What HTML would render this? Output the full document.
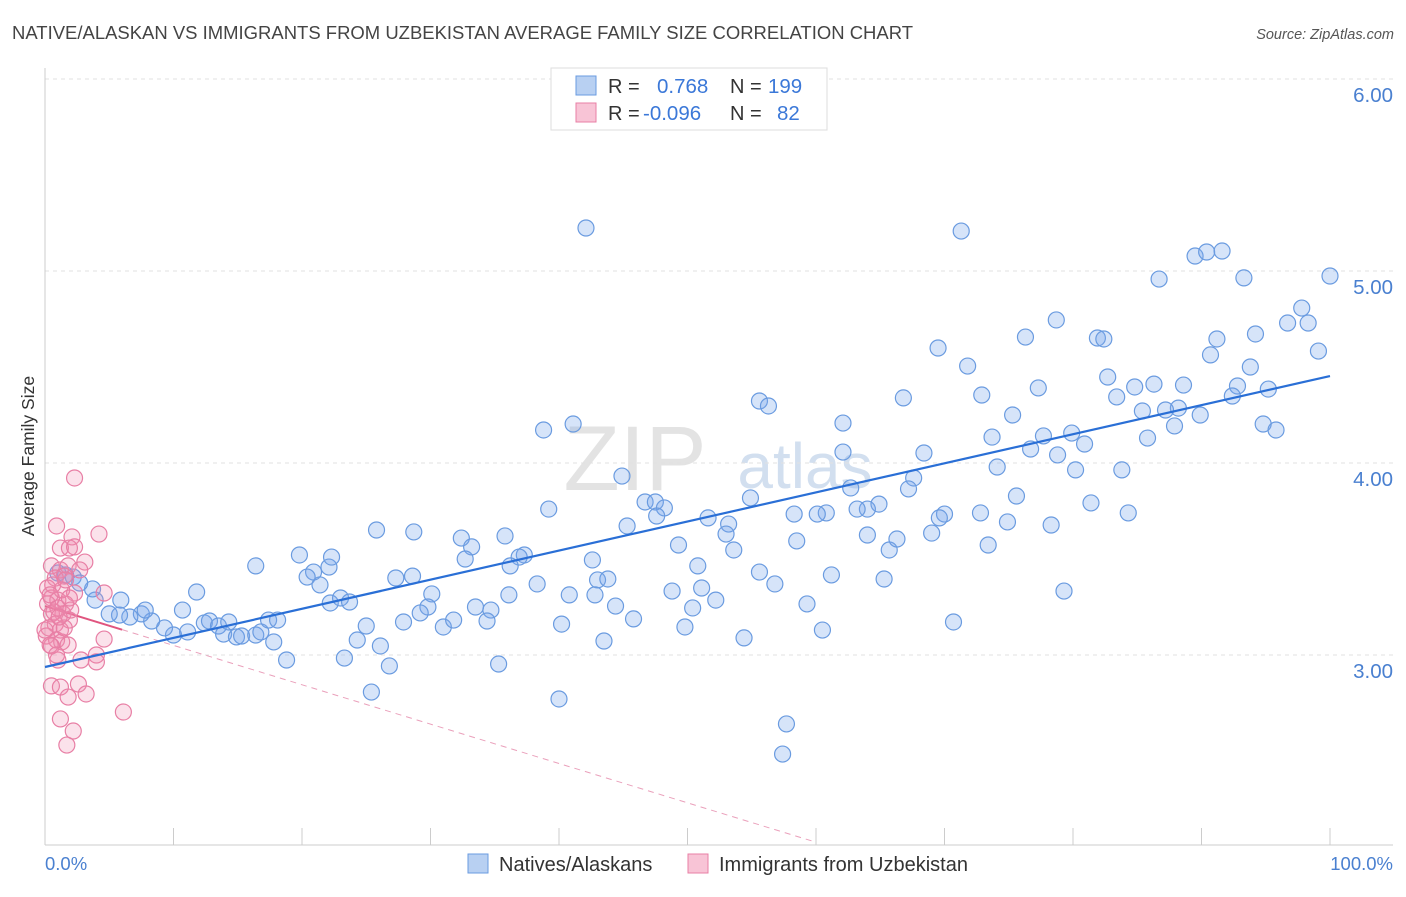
<!DOCTYPE html>
<html><head><meta charset="utf-8">
<style>
body{margin:0;background:#fff;font-family:"Liberation Sans",sans-serif;}
svg text{font-family:"Liberation Sans",sans-serif;}
</style></head>
<body>
<svg id="chart" width="1406" height="892" viewBox="0 0 1406 892" xmlns="http://www.w3.org/2000/svg">
<text x="12" y="39" font-size="18" fill="#444" textLength="901" lengthAdjust="spacingAndGlyphs">NATIVE/ALASKAN VS IMMIGRANTS FROM UZBEKISTAN AVERAGE FAMILY SIZE CORRELATION CHART</text>
<text x="1394" y="39" font-size="14.5" fill="#555" font-style="italic" text-anchor="end">Source: ZipAtlas.com</text>
<g>
<text x="635" y="490" font-size="92" fill="#ddd" font-family="Liberation Serif" text-anchor="middle" opacity="0.8">ZIP</text>
<text x="805" y="488" font-size="64" fill="#c8d8ec" text-anchor="middle" opacity="0.8">atlas</text>
</g>
<g id="grid"></g>
<g id="axes"></g>
<g id="pinkTrend"></g>
<g id="bluePts"></g>
<g id="pinkPts"></g>
<g id="blueTrend"></g>
<text transform="translate(34,456) rotate(-90)" font-size="17.5" fill="#333" text-anchor="middle">Average Family Size</text>
<text x="45" y="870" font-size="18.5" fill="#4a80d0">0.0%</text>
<text x="1393" y="870" font-size="18.5" fill="#4a80d0" text-anchor="end">100.0%</text>
<g>
<rect x="551" y="68" width="276" height="62" fill="#fff" stroke="#ddd"/>
<rect x="576" y="76" width="20" height="19" fill="#b8d0f2" stroke="#6a9be0"/>
<rect x="576" y="103" width="20" height="19" fill="#f8c4d6" stroke="#e87fa5"/>
<text x="608" y="93" font-size="20" fill="#333">R =</text>
<text x="657" y="93" font-size="20.5" fill="#3b78d8">0.768</text>
<text x="730" y="93" font-size="20" fill="#333">N =</text>
<text x="768" y="93" font-size="20.5" fill="#3b78d8">199</text>
<text x="608" y="120" font-size="20" fill="#333">R =</text>
<text x="643" y="120" font-size="20.5" fill="#3b78d8">-0.096</text>
<text x="730" y="120" font-size="20" fill="#333">N =</text>
<text x="777" y="120" font-size="20.5" fill="#3b78d8">82</text>
</g>
<g>
<rect x="468" y="854" width="20" height="19" fill="#b8d0f2" stroke="#6a9be0"/>
<text x="499" y="871" font-size="20" fill="#333">Natives/Alaskans</text>
<rect x="688" y="854" width="20" height="19" fill="#f8c4d6" stroke="#e87fa5"/>
<text x="719" y="871" font-size="20" fill="#333">Immigrants from Uzbekistan</text>
</g>
</svg>
<script>
const yTicks=[3,4,5,6];
const yTickLabels=["3.00","4.00","5.00","6.00"];
const xTicks=[0,10,20,30,40,50,60,70,80,90,100];
const blueX=[42.1,71.3,100,86.7,89.5,90.4,91.6,93.3,97.8,96.7,98.3,99.1,94.2,91.2,90.7,93.8,92.8,88.6,86.3,84.8,83.4,82.7,81.9,82.4,76.3,78.7,69.5,71.8,77.3,72.9,66.8,55.6,56.3,62.1,95.2,92.4,89.9,88.2,87.9,87.2,85.4,85.8,94.8,95.8,75.3,73.7,79.9,77.7,80.9,76.7,68.4,62.1,38.8,41.1,44.9,62.7,67.6,67.2,74.1,80.2,83.8,75.6,81.4,84.3,78.3,74.9,72.8,70.0,69.6,69.0,64.0,64.9,63.2,60.8,60.1,58.3,54.9,53.2,53.0,53.6,51.6,46.7,47.5,48.2,47.6,45.3,39.2,25.8,28.7,32.4,33.2,32.7,35.8,37.3,36.9,36.2,42.6,43.0,42.8,49.3,50.8,51.1,52.2,50.4,49.8,48.8,54.4,55.6,56.8,59.3,61.2,60.5,58.5,64.0,65.7,66.3,65.3,70.7,73.4,79.3,78.8,16.4,19.8,20.9,22.1,20.4,21.4,22.2,23.0,23.7,22.3,27.3,28.6,30.1,29.8,27.9,29.2,25.0,24.3,26.1,26.8,23.3,25.4,31.0,31.8,33.5,34.7,34.4,36.1,38.3,40.8,40.2,43.5,44.4,45.8,43.8,40.0,35.3,11.8,10.7,10.0,9.3,8.3,12.4,12.8,13.5,13.9,14.3,14.9,15.3,16.4,16.8,17.4,18.1,17.8,18.8,11.1,7.5,7.8,6.6,5.9,5.8,5.0,3.9,3.7,2.2,1.6,2.7,1.0,57.7,57.4];
const blueY=[5.224,5.208,4.974,4.958,5.078,5.099,5.104,4.964,4.807,4.729,4.729,4.583,4.672,4.646,4.563,4.5,4.401,4.406,4.411,4.396,4.344,4.448,4.651,4.646,4.656,4.745,4.599,4.505,4.391,4.354,4.339,4.323,4.297,4.208,4.385,4.349,4.25,4.286,4.193,4.276,4.271,4.13,4.203,4.172,4.25,4.135,4.156,4.141,4.099,4.073,4.052,4.057,4.172,4.203,3.932,3.87,3.922,3.865,3.979,3.964,3.964,3.828,3.792,3.74,3.677,3.693,3.74,3.734,3.714,3.635,3.76,3.786,3.76,3.74,3.734,3.734,3.818,3.682,3.63,3.547,3.714,3.797,3.797,3.766,3.724,3.672,3.76,3.651,3.641,3.609,3.563,3.5,3.62,3.521,3.51,3.464,3.495,3.391,3.313,3.573,3.464,3.349,3.286,3.245,3.146,3.333,3.089,3.432,3.37,3.266,3.417,3.13,3.594,3.625,3.547,3.604,3.396,3.172,3.573,3.333,4.042,3.464,3.521,3.432,3.458,3.406,3.365,3.271,3.297,3.276,3.51,3.401,3.411,3.318,3.25,3.172,3.219,3.151,3.078,3.047,2.943,2.984,2.807,3.146,3.182,3.25,3.234,3.177,3.313,3.37,3.313,3.161,3.073,3.255,3.188,3.396,2.771,2.953,3.328,3.234,3.104,3.141,3.177,3.167,3.177,3.151,3.109,3.172,3.094,3.099,3.104,3.12,3.182,3.182,3.068,2.974,3.12,3.214,3.234,3.198,3.286,3.208,3.214,3.286,3.344,3.406,3.417,3.375,3.427,2.641,2.484];
const pinkX=[2.3,0.9,4.2,2.1,1.2,1.9,2.3,3.1,0.5,1.2,1.8,2.7,1.5,0.8,0.2,2.3,4.6,0.5,1.0,1.6,0.2,1.4,1.9,0.5,0.8,0.3,1.2,0.1,0.9,1.3,1.8,4.6,0.5,4.0,4.0,1.0,2.8,0.5,1.2,2.6,3.2,1.8,6.1,1.2,2.2,1.7,0.7,1.0,0.0,0.4,1.5,2.0,1.3,0.6,1.6,1.1,0.9,0.4,1.9];
const pinkY=[3.922,3.672,3.63,3.615,3.557,3.557,3.563,3.484,3.464,3.443,3.464,3.443,3.411,3.401,3.349,3.323,3.323,3.297,3.286,3.266,3.266,3.214,3.182,3.214,3.161,3.141,3.13,3.099,3.078,3.068,3.052,3.083,3.047,3.0,2.964,2.974,2.974,2.839,2.833,2.849,2.797,2.781,2.703,2.667,2.604,2.531,3.224,3.245,3.13,3.052,3.141,3.234,3.339,3.365,3.391,3.198,3.0,3.313,3.297];
const blueTrendEnds=[[0,2.9375],[100,4.453]];
const pinkTrendSolid=[[0,3.255],[6,3.132]];
const pinkTrendDash=[[6,3.132],[60,2.025]];

const NS="http://www.w3.org/2000/svg";
const X0=45,X1=1330,Y3=655,PPU=192;
function xs(v){return X0+(X1-X0)*v/100;}
function ys(v){return Y3-(v-3)*PPU;}
function mk(tag,attrs,parent){const e=document.createElementNS(NS,tag);for(const k in attrs)e.setAttribute(k,attrs[k]);parent.appendChild(e);return e;}

const grid=document.getElementById('grid');
yTicks.forEach((t,i)=>{
  const l=mk('line',{x1:45,x2:1393,y1:ys(t),y2:ys(t),stroke:'#e2e2e2','stroke-dasharray':'4,4'},grid);
  
  
  const tx=mk('text',{x:1393,y:ys(t)+23,'font-size':20.5,fill:'#4a80d0','text-anchor':'end'},grid);
  tx.textContent=yTickLabels[i];
  
  
});
const axes=document.getElementById('axes');
const ya=mk('line',{x1:45,x2:45,y1:68,y2:845,stroke:'#ccc'},axes);


const xa=mk('line',{x1:45,x2:1393,y1:845,y2:845,stroke:'#ccc'},axes);


xTicks.forEach(t=>{
  const l=mk('line',{x1:xs(t),x2:xs(t),y1:828,y2:845,stroke:'#ccc'},axes);
  
  
});

const bp=document.getElementById('bluePts');
blueX.forEach((x,i)=>{
  const c=mk('circle',{cx:xs(x),cy:ys(blueY[i]),r:8,fill:'rgba(120,165,235,0.3)',stroke:'#6a9be0','stroke-width':1.2},bp);
  
  
});
const pp=document.getElementById('pinkPts');
pinkX.forEach((x,i)=>{
  const c=mk('circle',{cx:xs(x),cy:ys(pinkY[i]),r:8,fill:'rgba(240,140,175,0.25)',stroke:'#e87fa5','stroke-width':1.2},pp);
  
  
});
const bt=mk('line',{x1:xs(blueTrendEnds[0][0]),y1:ys(blueTrendEnds[0][1]),x2:xs(blueTrendEnds[1][0]),y2:ys(blueTrendEnds[1][1]),stroke:'#2a6fd6','stroke-width':2.2},document.getElementById('blueTrend'));


const ptg=document.getElementById('pinkTrend');
const ps=mk('line',{x1:xs(pinkTrendSolid[0][0]),y1:ys(pinkTrendSolid[0][1]),x2:xs(pinkTrendSolid[1][0]),y2:ys(pinkTrendSolid[1][1]),stroke:'#e0557f','stroke-width':2},ptg);


const pd=mk('line',{x1:xs(pinkTrendDash[0][0]),y1:ys(pinkTrendDash[0][1]),x2:xs(pinkTrendDash[1][0]),y2:ys(pinkTrendDash[1][1]),stroke:'#eaa0bb','stroke-width':1,'stroke-dasharray':'6,5'},ptg);


</script>
</body></html>
